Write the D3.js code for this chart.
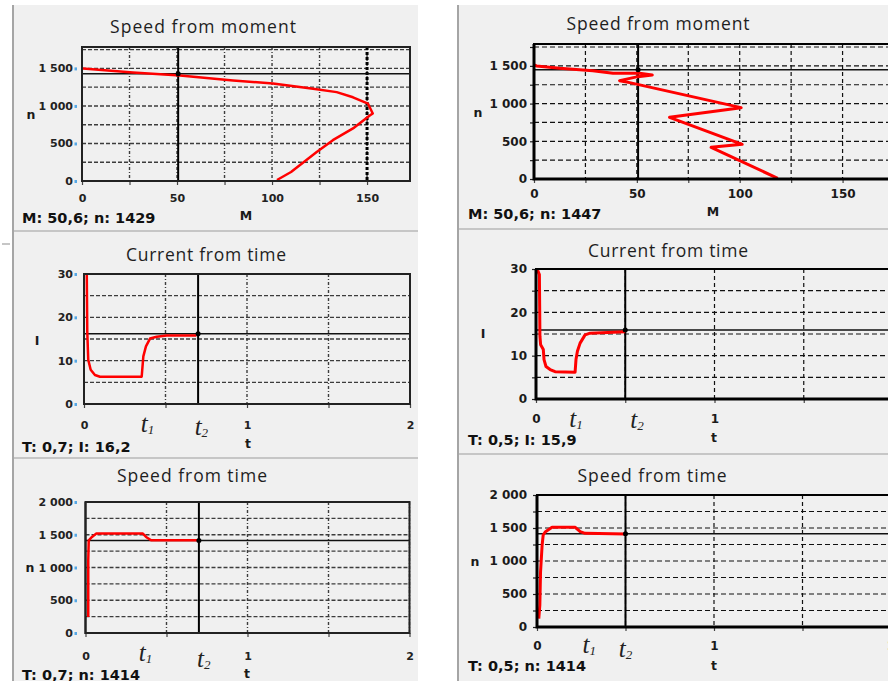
<!DOCTYPE html>
<html>
<head>
<meta charset="utf-8">
<script src="https://cdn.jsdelivr.net/npm/d3@7"></script>
<style>
  body { margin: 0; background: #fff; }
  svg { display: block; }
  .title { font-family: "Open Sans", "Noto Sans", sans-serif; font-size: 17.5px; fill: #1e1e1e; }
  .axis text { font-family: "DejaVu Sans", sans-serif; font-size: 11px; font-weight: bold; fill: #222; }
  .axis.right text { font-size: 12px; fill: #1a1a1a; }
  .name { font-family: "DejaVu Sans", sans-serif; font-size: 12.5px; font-weight: bold; fill: #1a1a1a; }
  .status { font-family: "DejaVu Sans", sans-serif; font-size: 14.5px; font-weight: bold; fill: #111; }
  .mark { font-family: "Liberation Serif", "DejaVu Serif", serif; font-style: italic; fill: #222; }
</style>
</head>
<body>
<svg id="chart" width="888" height="681"></svg>
<script>
// titles
const titles = ["Speed from moment", "Current from time", "Speed from time"];

// tick labels
const momentXLabels = [0, 50, 100, 150];
const momentYLabels = [0, 500, 1000, 1500];
const timeXLabels = [0, 1, 2];
const currentYLabels = [0, 10, 20, 30];
const speedYLabels = [0, 500, 1000, 1500, 2000];

// speed from moment, n(M)
const leftMomentM = [102.6, 110, 123.5, 132, 142.6, 151.6, 153, 150.5, 142.6, 134, 121.6, 100.5, 79.5, 51.6, 26.8, 0.5];
const leftMomentN = [13, 120, 385, 544, 700, 875, 900, 1030, 1115, 1184, 1230, 1300, 1340, 1405, 1445, 1500];
const rightMomentM = [118.5, 86.1, 101.2, 65.9, 100.7, 46.5, 41.6, 50.5, 57.5, 51.3, 38.4, 28.6, 12.5, 1.2, 0];
const rightMomentN = [9, 420, 460, 818, 946, 1278, 1304, 1357, 1379, 1402, 1402, 1436, 1468, 1499, 1515];

// current from time, I(t)
const leftCurrentT = [0.017, 0.02, 0.026, 0.041, 0.067, 0.098, 0.354, 0.364, 0.38, 0.405, 0.446, 0.507, 0.69];
const leftCurrentI = [29.9, 16.8, 10.2, 7.9, 6.7, 6.3, 6.3, 11, 13.3, 15.1, 15.5, 15.8, 15.8];
const rightCurrentT = [0.007, 0.019, 0.022, 0.026, 0.041, 0.045, 0.056, 0.079, 0.107, 0.219, 0.224, 0.232, 0.247, 0.275, 0.303, 0.5];
const rightCurrentI = [29.9, 28.7, 14.5, 12.5, 11.4, 9.1, 7.5, 6.8, 6.3, 6.2, 9.1, 11, 12.9, 14.8, 15.2, 15.5];

// speed from time, n(t)
const leftSpeedT = [0.017, 0.017, 0.02, 0.04, 0.067, 0.354, 0.374, 0.405, 0.7];
const leftSpeedN = [244, 1110, 1415, 1466, 1518, 1518, 1466, 1415, 1415];
const rightSpeedT = [0.01, 0.016, 0.02, 0.029, 0.035, 0.048, 0.085, 0.216, 0.244, 0.272, 0.503];
const rightSpeedN = [128, 330, 836, 1242, 1394, 1444, 1511, 1511, 1444, 1419, 1409];

// cursor readouts [x, y] for left / right window
const momentCursor = [[50.6, 1429], [50.6, 1447]];
const currentCursor = [[0.7, 16.2], [0.5, 15.9]];
const speedCursor = [[0.7, 1414], [0.5, 1414]];

// t1 / t2 annotation positions on the time axis
const timeMarks = { leftCurrent: [0.39, 0.72], rightCurrent: [0.224, 0.566], leftSpeed: [0.37, 0.73], rightSpeed: [0.295, 0.5] };

const loc = d3.formatLocale({ decimal: ",", thousands: " ", grouping: [3], currency: ["", ""] });
const fmt = loc.format(",");
const dec = loc.format(".1f");

const svg = d3.select("#chart");

const styles = {
  left: { grid: "#3c3c3c", gridW: 1.4, dashH: "4,2", dashV: "3,2,1,2", frame: "#222", frameW: 2, axisW: 2, line: 2.5 },
  right: { grid: "#111", gridW: 1.2, dashH: "5,3", dashV: "4,3", frame: "#000", frameW: 2, axisW: 3, line: 3 }
};

// window backgrounds
const windows = [
  { x: 12, y: 5, w: 406, h: 676, seps: [231, 458] },
  { x: 457, y: 5, w: 431, h: 676, seps: [229, 454] }
];
windows.forEach(w => {
  svg.append("rect").attr("x", w.x).attr("y", w.y).attr("width", w.w).attr("height", w.h).attr("fill", "#f0f0f0");
  svg.append("line").attr("x1", w.x + 1).attr("x2", w.x + 1).attr("y1", w.y).attr("y2", w.y + w.h)
    .attr("stroke", "#a5a5a5").attr("stroke-width", 2);
  w.seps.forEach(s => svg.append("line").attr("x1", w.x + 2).attr("x2", w.x + w.w).attr("y1", s).attr("y2", s)
    .attr("stroke", "#c6c6c6").attr("stroke-width", 2));
});
svg.append("line").attr("x1", 2).attr("x2", 10).attr("y1", 244).attr("y2", 244).attr("stroke", "#c6c6c6").attr("stroke-width", 2);

const panels = [
  { side: "left", title: titles[0], titleAt: [203, 33], titleW: 186, box: [82, 47, 410, 181],
    xDomain: [0, 172.6], yDomain: [0, 1785], xGrid: d3.range(0, 175, 25), yGrid: d3.range(250, 1751, 250),
    xLabels: momentXLabels, yLabels: momentYLabels, yTicks: momentYLabels, heavyX: [150],
    xs: leftMomentM, ys: leftMomentN, cursor: momentCursor[0], xPad: 9, labelEnd: 73,
    status: c => `M: ${dec(c[0])}; n: ${c[1]}`, statusAt: [22, 223],
    xName: ["M", 246, 220], yName: ["n", 31, 119] },
  { side: "right", title: titles[0], titleAt: [658, 30], titleW: 183, box: [534, 44, 894, 179],
    xDomain: [0, 175], yDomain: [0, 1790], xGrid: d3.range(0, 176, 25), yGrid: d3.range(250, 1751, 250),
    xLabels: momentXLabels, yLabels: momentYLabels, yTicks: d3.range(0, 1751, 250),
    xs: rightMomentM, ys: rightMomentN, cursor: momentCursor[1], xPad: 6, labelEnd: 527,
    status: c => `M: ${dec(c[0])}; n: ${c[1]}`, statusAt: [468, 219],
    xName: ["M", 713, 216], yName: ["n", 478, 117] },
  { side: "left", title: titles[1], titleAt: [206, 261], titleW: 160, box: [84, 274, 410, 404],
    xDomain: [0, 2], yDomain: [0, 30], xGrid: d3.range(0, 2.01, 0.5), yGrid: d3.range(5, 26, 5),
    xLabels: timeXLabels, yLabels: currentYLabels, yTicks: currentYLabels,
    xs: leftCurrentT, ys: leftCurrentI, cursor: currentCursor[0], xPad: 13, labelEnd: 73,
    status: c => `T: ${dec(c[0])}; I: ${dec(c[1])}`, statusAt: [22, 452],
    xName: ["t", 248, 448], yName: ["I", 37, 345], marks: timeMarks.leftCurrent, markY: [432, 435] },
  { side: "right", title: titles[1], titleAt: [668, 257], titleW: 160, box: [536, 269, 893, 399],
    xDomain: [0, 2], yDomain: [0, 30], xGrid: d3.range(0, 2.01, 0.5), yGrid: d3.range(5, 26, 5),
    xLabels: timeXLabels, yLabels: currentYLabels, yTicks: d3.range(0, 31, 5),
    xs: rightCurrentT, ys: rightCurrentI, cursor: currentCursor[1], xPad: 11, labelEnd: 527,
    status: c => `T: ${dec(c[0])}; I: ${dec(c[1])}`, statusAt: [468, 445],
    xName: ["t", 714, 442], yName: ["I", 483, 338], marks: timeMarks.rightCurrent, markY: [427, 428] },
  { side: "left", title: titles[2], titleAt: [192, 482], titleW: 150, box: [85.5, 502, 409.5, 633],
    xDomain: [0, 2], yDomain: [0, 2000], xGrid: d3.range(0, 2.01, 0.5), yGrid: d3.range(250, 1751, 250),
    xLabels: timeXLabels, yLabels: speedYLabels, yTicks: speedYLabels,
    xs: leftSpeedT, ys: leftSpeedN, cursor: speedCursor[0], xPad: 15, labelEnd: 73,
    status: c => `T: ${dec(c[0])}; n: ${c[1]}`, statusAt: [22, 680],
    xName: ["t", 247, 678], yName: ["n", 30, null], marks: timeMarks.leftSpeed, markY: [661, 667] },
  { side: "right", title: titles[2], titleAt: [652, 482], titleW: 149, box: [537, 495, 891, 627],
    xDomain: [0, 2], yDomain: [0, 2000], xGrid: d3.range(0, 2.01, 0.5), yGrid: d3.range(250, 1751, 250),
    xLabels: timeXLabels, yLabels: speedYLabels, yTicks: d3.range(0, 2001, 250),
    xs: rightSpeedT, ys: rightSpeedN, cursor: speedCursor[1], xPad: 10, labelEnd: 527,
    status: c => `T: ${dec(c[0])}; n: ${c[1]}`, statusAt: [468, 671],
    xName: ["t", 714, 670], yName: ["n", 475, null], marks: timeMarks.rightSpeed, markY: [653, 657] }
];

function drawPanel(p) {
  const [x0, y0, x1, y1] = p.box;
  const st = styles[p.side];
  const x = d3.scaleLinear().domain(p.xDomain).range([x0, x1]);
  const y = d3.scaleLinear().domain(p.yDomain).range([y1, y0]);
  const g = svg.append("g").attr("class", "panel");

  g.append("text").attr("class", "title")
    .attr("x", p.titleAt[0]).attr("y", p.titleAt[1])
    .attr("text-anchor", "middle")
    .attr("textLength", p.titleW).attr("lengthAdjust", "spacing")
    .text(p.title);

  // grid
  g.append("g").selectAll("line")
    .data(p.xGrid.filter(v => v > p.xDomain[0]))
    .join("line")
    .attr("x1", d => x(d)).attr("x2", d => x(d))
    .attr("y1", y0).attr("y2", y1)
    .attr("stroke", st.grid).attr("stroke-width", st.gridW)
    .attr("stroke-dasharray", st.dashV);
  g.append("g").selectAll("line")
    .data(p.yGrid)
    .join("line")
    .attr("x1", x0).attr("x2", x1)
    .attr("y1", d => y(d)).attr("y2", d => y(d))
    .attr("stroke", st.grid).attr("stroke-width", st.gridW)
    .attr("stroke-dasharray", st.dashH);
  (p.heavyX || []).forEach(v => {
    g.append("line").attr("x1", x(v)).attr("x2", x(v)).attr("y1", y0).attr("y2", y1)
      .attr("stroke", "#000").attr("stroke-width", 3).attr("stroke-dasharray", "3,2");
  });

  // axes
  const yAxis = d3.axisLeft(y).tickValues(p.yTicks).tickSize(4).tickPadding(x0 - p.labelEnd - 4)
    .tickFormat(v => p.yLabels.includes(v) ? fmt(v) : "");
  const ya = g.append("g").attr("class", "axis " + p.side).attr("transform", `translate(${x0},0)`).call(yAxis);
  ya.select(".domain").remove();
  if (p.side === "left") {
    ya.selectAll(".tick line").attr("x1", p.labelEnd - x0 + 4).attr("x2", p.labelEnd - x0 + 1.5)
      .attr("stroke", "#56a8e6").attr("stroke-width", 3);
  } else {
    ya.selectAll(".tick line").attr("stroke", "#222").attr("stroke-width", 1.2);
  }

  const xAxis = d3.axisBottom(x).tickValues(p.xGrid).tickSize(4).tickPadding(p.xPad)
    .tickFormat(v => p.xLabels.includes(v) ? fmt(v) : "");
  const xa = g.append("g").attr("class", "axis " + p.side).attr("transform", `translate(0,${y1})`).call(xAxis);
  xa.select(".domain").remove();
  xa.selectAll(".tick line").attr("stroke", "#444").attr("stroke-width", 1.2);

  // cursor crosshair
  const [cx, cy] = p.cursor;
  g.append("line").attr("x1", x(cx)).attr("x2", x(cx)).attr("y1", y0).attr("y2", y1)
    .attr("stroke", "#000").attr("stroke-width", 2);
  g.append("line").attr("x1", x0).attr("x2", x1).attr("y1", y(cy)).attr("y2", y(cy))
    .attr("stroke", "#111").attr("stroke-width", 1.5);

  // series
  const pts = p.xs.map((v, i) => [v, p.ys[i]]);
  g.append("path")
    .attr("d", d3.line().x(d => x(d[0])).y(d => y(d[1]))(pts))
    .attr("fill", "none").attr("stroke", "#ff0000")
    .attr("stroke-width", st.line).attr("stroke-linejoin", "round");

  g.append("circle").attr("cx", x(cx)).attr("cy", y(cy)).attr("r", 2.5).attr("fill", "#000");

  // frame
  g.append("rect").attr("x", x0).attr("y", y0).attr("width", x1 - x0).attr("height", y1 - y0)
    .attr("fill", "none").attr("stroke", st.frame).attr("stroke-width", st.frameW);
  g.append("path").attr("d", `M${x0},${y0}V${y1}H${x1}`)
    .attr("fill", "none").attr("stroke", st.frame).attr("stroke-width", st.axisW);

  // names and readout
  g.append("text").attr("class", "name").attr("x", p.xName[1]).attr("y", p.xName[2])
    .attr("text-anchor", "middle").text(p.xName[0]);
  const yn = p.yName[2] == null ? y(1000) + 4.5 : p.yName[2];
  g.append("text").attr("class", "name").attr("x", p.yName[1]).attr("y", yn)
    .attr("text-anchor", "middle").text(p.yName[0]);
  g.append("text").attr("class", "status").attr("x", p.statusAt[0]).attr("y", p.statusAt[1])
    .text(p.status(p.cursor));

  // t1 / t2
  (p.marks || []).forEach((m, i) => {
    const t = g.append("text").attr("class", "mark")
      .attr("x", x(m)).attr("y", p.markY[i]).attr("text-anchor", "middle");
    t.append("tspan").attr("font-size", 25).text("t");
    t.append("tspan").attr("font-size", 13).attr("dy", 2).text(i + 1);
  });
}

panels.forEach(drawPanel);
</script>
</body>
</html>
